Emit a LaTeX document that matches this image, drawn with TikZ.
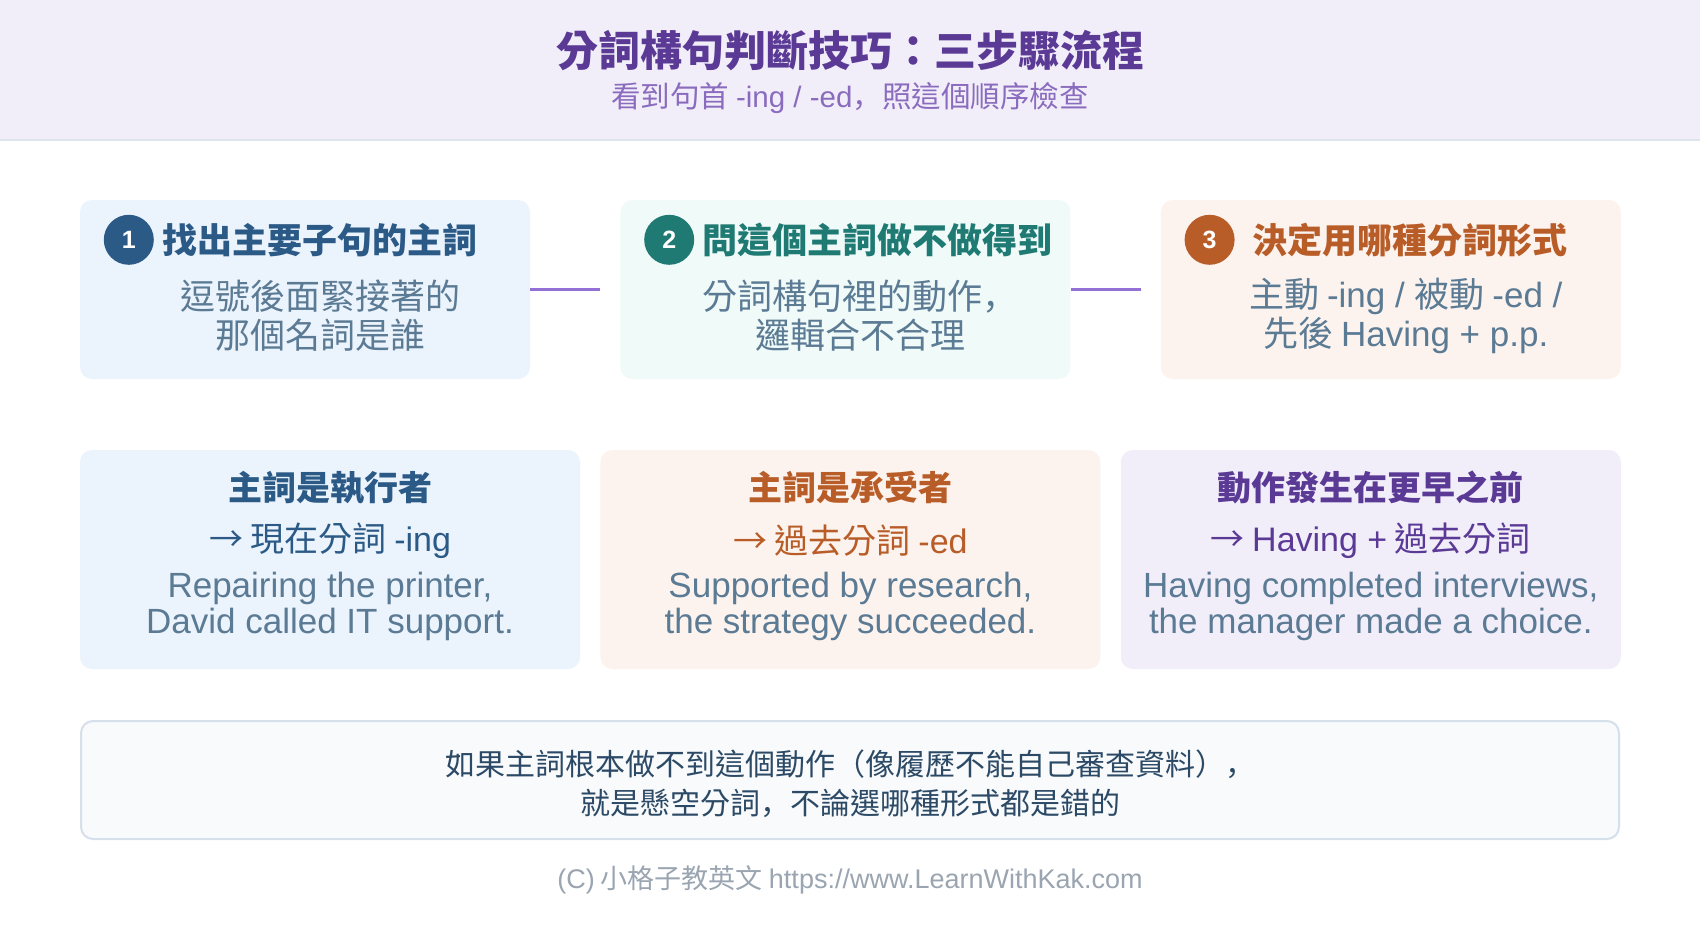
\documentclass[tikz,border=0pt]{standalone}
\usepackage{fontspec}
\setmainfont{Noto Sans CJK TC}
\newfontfamily\en{Liberation Sans}
\newfontfamily\cm{Noto Sans CJK SC}
\usetikzlibrary{positioning,calc}
\definecolor{headfill}{HTML}{F1EEF9}
\definecolor{headrule}{HTML}{DCE5EE}
\definecolor{purpledark}{HTML}{5B3A96}
\definecolor{purplesoft}{HTML}{8A6BBE}
\definecolor{purpleline}{HTML}{9370D6}
\definecolor{bluefill}{HTML}{EBF3FC}
\definecolor{bluedark}{HTML}{2B5A87}
\definecolor{tealfill}{HTML}{F0FAF9}
\definecolor{tealdark}{HTML}{1F7A74}
\definecolor{peachfill}{HTML}{FCF3EE}
\definecolor{orangedark}{HTML}{B85C28}
\definecolor{lilacfill}{HTML}{F1EEFA}
\definecolor{slatetext}{HTML}{5B7A94}
\definecolor{notefill}{HTML}{F8FAFC}
\definecolor{noterule}{HTML}{D6E0EA}
\definecolor{notetext}{HTML}{2C4A66}
\definecolor{foottext}{HTML}{9AA5B1}
\newcommand{\fs}[2]{\fontsize{#1}{#2}\selectfont}
\newcommand{\dou}{{\cm ，}}

\begin{document}
\begin{tikzpicture}[x=1pt, y=-1pt,
  stepbox/.style={rounded corners=12pt, inner sep=0pt, minimum width=450pt, minimum height=179pt},
  casebox/.style={rounded corners=12pt, inner sep=0pt, minimum width=500pt, minimum height=219pt},
  notebox/.style={draw=noterule, line width=2pt, fill=notefill, rounded corners=12pt, inner sep=0pt, minimum width=1538pt, minimum height=118pt},
  badge/.style={circle, inner sep=0pt, minimum size=50pt, text=white, font=\en\bfseries\fs{25}{30}},
  steptitle/.style={inner sep=0pt, font=\bfseries\fs{35}{40}},
  stepbody/.style={inner sep=0pt, align=center, text=slatetext, font=\fs{35}{39}},
  casehead/.style={inner sep=0pt, font=\bfseries\fs{34}{40}},
  caserule/.style={inner sep=0pt, font=\fs{34}{40}},
  caseeg/.style={inner sep=0pt, align=center, text=slatetext, font=\en\fs{35}{36}},
  link/.style={line width=3pt, purpleline, shorten >=20pt}
]
  \useasboundingbox[fill=white] (0,0) rectangle (1700,931);
  % header band
  \fill[headfill] (0,0) rectangle (1700,139);
  \draw[headrule, line width=2pt] (0,140) -- (1700,140);
  \node[inner sep=0pt, text=purpledark, font=\bfseries\fs{42}{48}] (title) at (850,51) {分詞構句判斷技巧：三步驟流程};
  \node[inner sep=0pt, text=purplesoft, font=\fs{29.5}{34}] (subtitle) at (850,98) {看到句首 {\en -ing / -ed}\dou 照這個順序檢查};

  % three steps
  \node[stepbox, fill=bluefill] (s1) at (305,289.5) {};
  \node[stepbox, fill=tealfill, right=90pt of s1] (s2) {};
  \node[stepbox, fill=peachfill, minimum width=460pt, right=90pt of s2] (s3) {};

  \node[badge, fill=bluedark] (b1) at ($(s1.north west)+(49,40)$) {1};
  \node[badge, fill=tealdark] (b2) at ($(s2.north west)+(49,40)$) {2};
  \node[badge, fill=orangedark] (b3) at ($(s3.north west)+(49,40)$) {3};

  \node[steptitle, text=bluedark, right=8pt of b1] (t1) {找出主要子句的主詞};
  \node[steptitle, text=tealdark, right=8pt of b2] (t2) {問這個主詞做不做得到};
  \node[steptitle, text=orangedark, right=17pt of b3] (t3) {決定用哪種分詞形式};

  \node[stepbody] (d1) at ($(s1.north)+(15,116)$) {逗號後面緊接著的\\那個名詞是誰};
  \node[stepbody] (d2) at ($(s2.north)+(15,116)$) {分詞構句裡的動作\dou\\邏輯合不合理};
  \node[stepbody] (d3) at ($(s3.north)+(15,116)$) {主動 {\en -ing / }被動 {\en -ed /}\\先後 {\en Having + p.p.}};

  \draw[link] (s1.east) -- (s2.west);
  \draw[link] (s2.east) -- (s3.west);

  % three cases
  \node[casebox, fill=bluefill] (c1) at (330,559.5) {};
  \node[casebox, fill=peachfill, right=20pt of c1] (c2) {};
  \node[casebox, fill=lilacfill, right=20pt of c2] (c3) {};

  \node[casehead, text=bluedark] (h1) at ($(c1.north)+(0,38)$) {主詞是執行者};
  \node[casehead, text=orangedark] (h2) at ($(c2.north)+(0,38)$) {主詞是承受者};
  \node[casehead, text=purpledark] (h3) at ($(c3.north)+(0,38)$) {動作發生在更早之前};

  \node[caserule, text=bluedark] (r1) at ($(c1.north)+(0,91)$) {→ 現在分詞 {\en -ing}};
  \node[caserule, text=orangedark] (r2) at ($(c2.north)+(0,91)$) {→ 過去分詞 {\en -ed}};
  \node[caserule, text=purpledark] (r3) at ($(c3.north)+(0,91)$) {→ {\en Having +} 過去分詞};

  \node[caseeg] (e1) at ($(c1.north)+(0,157)$) {Repairing the printer,\\David called IT support.};
  \node[caseeg] (e2) at ($(c2.north)+(0,157)$) {Supported by research,\\the strategy succeeded.};
  \node[caseeg] (e3) at ($(c3.north)+(0,157)$) {Having completed interviews,\\the manager made a choice.};

  % warning note
  \node[notebox] (note) at (850,780) {};
  \node[inner sep=0pt, align=center, text=notetext, font=\fs{30}{39}] (notetxt) at ($(note.center)+(0,4)$) {如果主詞根本做不到這個動作（像履歷不能自己審查資料）\dou\\就是懸空分詞\dou 不論選哪種形式都是錯的};

  \node[inner sep=0pt, text=foottext, font=\fs{27}{32}] (foot) at (850,880) {{\en (C)} 小格子教英文 {\en https://www.LearnWithKak.com}};
\end{tikzpicture}
\end{document}
